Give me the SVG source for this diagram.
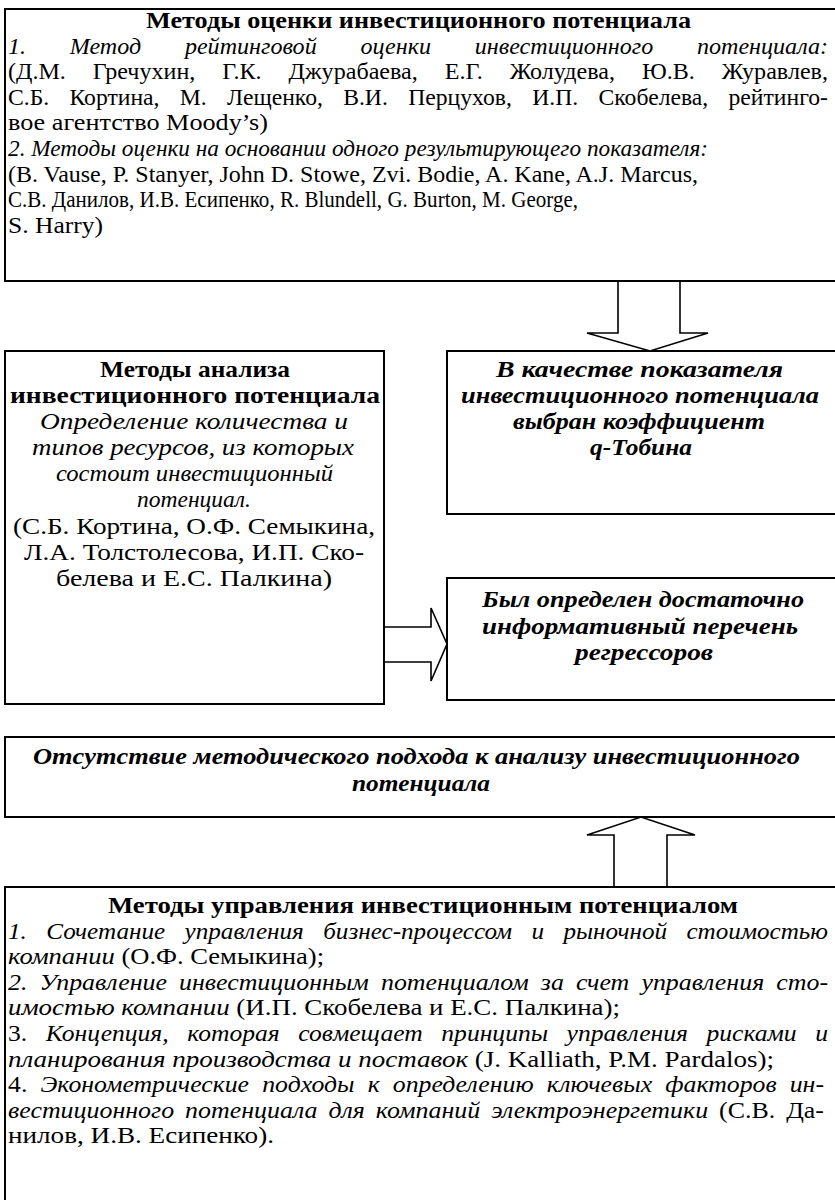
<svg xmlns="http://www.w3.org/2000/svg" width="835" height="1200" viewBox="0 0 835 1200">
<style>
.box{fill:#fff;stroke:#000;stroke-width:2}
.arr{fill:#fff;stroke:#000;stroke-width:1.6;stroke-linejoin:miter}
text{font-family:"Liberation Serif","Times New Roman",serif;font-size:23px;fill:#000}
.bd{font-weight:bold}
.it{font-style:italic}
.bi{font-weight:bold;font-style:italic}
</style>
<rect x="0" y="0" width="835" height="1200" fill="#fff"/>
<g id="connectors">
<polygon class="arr" points="618,281 618,333 587,333 650,351 708,333 680,333 680,281"/>
<polygon class="arr" points="384,627 431,627 431,608 447,644 431,681 431,662 384,662"/>
<polygon class="arr" points="614,887 614,835 587,835 641,817 695,835 667,835 667,887"/>
</g>
<g id="top">
<rect class="box" x="5" y="9" width="835" height="272"/>
<text class="bd" x="146" y="28" textLength="545" lengthAdjust="spacingAndGlyphs">Методы оценки инвестиционного потенциала</text>
<text class="it" x="8" y="53.6" textLength="820" lengthAdjust="spacingAndGlyphs" word-spacing="36">1. Метод рейтинговой оценки инвестиционного потенциала:</text>
<text x="8" y="79.2" textLength="820" lengthAdjust="spacingAndGlyphs" word-spacing="20">(Д.М. Гречухин, Г.К. Джурабаева, Е.Г. Жолудева, Ю.В. Журавлев,</text>
<text x="8" y="104.8" textLength="820" lengthAdjust="spacingAndGlyphs" word-spacing="14">С.Б. Кортина, М. Лещенко, В.И. Перцухов, И.П. Скобелева, рейтинго-</text>
<text x="8" y="130.4" textLength="260" lengthAdjust="spacingAndGlyphs">вое агентство Moody’s)</text>
<text class="it" x="8" y="156" textLength="700" lengthAdjust="spacingAndGlyphs">2. Методы оценки на основании одного результирующего показателя:</text>
<text x="8" y="181.6" textLength="690" lengthAdjust="spacingAndGlyphs">(B. Vause, P. Stanyer, John D. Stowe, Zvi. Bodie, A. Kane, A.J. Marcus,</text>
<text x="8" y="207.2" textLength="570" lengthAdjust="spacingAndGlyphs">С.В. Данилов, И.В. Есипенко, R. Blundell, G. Burton, M. George,</text>
<text x="8" y="232.8" textLength="95" lengthAdjust="spacingAndGlyphs">S. Harry)</text>
</g>
<g id="analysis">
<rect class="box" x="5" y="351" width="379" height="353"/>
<text class="bd" x="100" y="377" textLength="190" lengthAdjust="spacingAndGlyphs">Методы анализа</text>
<text class="bd" x="10" y="403" textLength="370" lengthAdjust="spacingAndGlyphs">инвестиционного потенциала</text>
<text class="it" x="40" y="429" textLength="308" lengthAdjust="spacingAndGlyphs">Определение количества и</text>
<text class="it" x="32" y="455" textLength="322" lengthAdjust="spacingAndGlyphs">типов ресурсов, из которых</text>
<text class="it" x="56" y="481" textLength="277" lengthAdjust="spacingAndGlyphs">состоит инвестиционный</text>
<text class="it" x="137" y="507" textLength="114" lengthAdjust="spacingAndGlyphs">потенциал.</text>
<text x="13" y="534" textLength="362" lengthAdjust="spacingAndGlyphs">(С.Б. Кортина, О.Ф. Семыкина,</text>
<text x="24" y="560" textLength="340" lengthAdjust="spacingAndGlyphs">Л.А. Толстолесова, И.П. Ско-</text>
<text x="56" y="586" textLength="276" lengthAdjust="spacingAndGlyphs">белева и Е.С. Палкина)</text>
</g>
<g id="tobin">
<rect class="box" x="447" y="351" width="393" height="163"/>
<text class="bi" x="496" y="377" textLength="287" lengthAdjust="spacingAndGlyphs">В качестве показателя</text>
<text class="bi" x="461" y="403" textLength="358" lengthAdjust="spacingAndGlyphs">инвестиционного потенциала</text>
<text class="bi" x="513" y="429" textLength="252" lengthAdjust="spacingAndGlyphs">выбран коэффициент</text>
<text class="bi" x="590" y="455" textLength="102" lengthAdjust="spacingAndGlyphs">q-Тобина</text>
</g>
<g id="regressors">
<rect class="box" x="447" y="578" width="393" height="122"/>
<text class="bi" x="482" y="607" textLength="322" lengthAdjust="spacingAndGlyphs">Был определен достаточно</text>
<text class="bi" x="482" y="634" textLength="316" lengthAdjust="spacingAndGlyphs">информативный перечень</text>
<text class="bi" x="575" y="660" textLength="138" lengthAdjust="spacingAndGlyphs">регрессоров</text>
</g>
<g id="absence">
<rect class="box" x="5" y="737" width="835" height="80"/>
<text class="bi" x="33" y="764" textLength="767" lengthAdjust="spacingAndGlyphs">Отсутствие методического подхода к анализу инвестиционного</text>
<text class="bi" x="352" y="791" textLength="138" lengthAdjust="spacingAndGlyphs">потенциала</text>
</g>
<g id="management">
<rect class="box" x="5" y="887" width="835" height="330"/>
<text class="bd" x="108" y="913" textLength="630" lengthAdjust="spacingAndGlyphs">Методы управления инвестиционным потенциалом</text>
<text class="it" x="8" y="938.6" textLength="820" lengthAdjust="spacingAndGlyphs" word-spacing="12">1. Сочетание управления бизнес-процессом и рыночной стоимостью</text>
<text x="8" y="964.2" textLength="316" lengthAdjust="spacingAndGlyphs"><tspan class="it">компании</tspan> (О.Ф. Семыкина);</text>
<text class="it" x="8" y="989.8" textLength="820" lengthAdjust="spacingAndGlyphs" word-spacing="5">2. Управление инвестиционным потенциалом за счет управления сто-</text>
<text x="8" y="1015.4" textLength="612" lengthAdjust="spacingAndGlyphs"><tspan class="it">имостью компании</tspan> (И.П. Скобелева и Е.С. Палкина);</text>
<text x="8" y="1041" textLength="820" lengthAdjust="spacingAndGlyphs" word-spacing="11">3. <tspan class="it">Концепция, которая совмещает принципы управления рисками и</tspan></text>
<text x="8" y="1066.6" textLength="766" lengthAdjust="spacingAndGlyphs"><tspan class="it">планирования производства и поставок</tspan> (J. Kalliath, P.M. Pardalos);</text>
<text x="8" y="1092.2" textLength="816" lengthAdjust="spacingAndGlyphs" word-spacing="6">4. <tspan class="it">Эконометрические подходы к определению ключевых факторов ин-</tspan></text>
<text x="8" y="1117.8" textLength="816" lengthAdjust="spacingAndGlyphs" word-spacing="4"><tspan class="it">вестиционного потенциала для компаний электроэнергетики</tspan> (С.В. Да-</text>
<text x="8" y="1143.4" textLength="266" lengthAdjust="spacingAndGlyphs">нилов, И.В. Есипенко).</text>
</g>
</svg>
